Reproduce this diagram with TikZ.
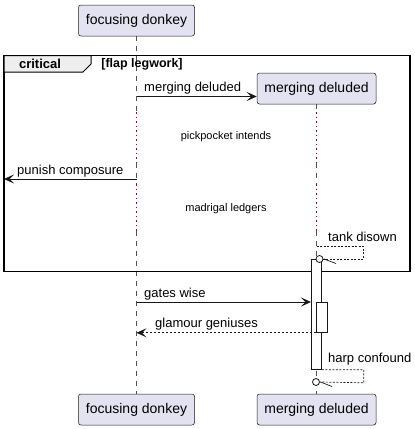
\documentclass[tikz,border=0pt]{standalone}
\usepackage{fontspec}
\setmainfont{Liberation Sans}
\usetikzlibrary{arrows.meta, positioning, calc}

\definecolor{partfill}{HTML}{E2E2F0}
\definecolor{partline}{HTML}{181818}
\definecolor{delayred}{HTML}{A80036}
\definecolor{tabfill}{HTML}{EEEEEE}

\begin{document}
\begin{tikzpicture}[x=1pt, y=-1pt,
    participant/.style={draw=partline, fill=partfill, line width=0.5pt, rounded corners=2.5pt,
        minimum height=31pt, inner sep=0pt, font=\fontsize{14}{16}\selectfont},
    lifeline/.style={draw=partline!75, line width=0.6pt, dash pattern=on 5pt off 5pt},
    delayline/.style={draw=delayred, line width=1pt, dash pattern=on 1.5pt off 3pt},
    msg/.style={-{Stealth[length=10pt, width=9pt, inset=4.5pt]}, draw=partline, line width=0.8pt},
    retmsg/.style={msg, dash pattern=on 2pt off 2pt},
    selfmsg/.style={draw=partline, line width=0.7pt, dash pattern=on 2pt off 1.5pt},
    msglabel/.style={anchor=base west, inner sep=0pt, font=\fontsize{13}{15}\selectfont},
    delaylabel/.style={inner sep=0pt, font=\fontsize{11}{13}\selectfont},
    actbar/.style={draw=partline, fill=white, line width=0.8pt, inner sep=0pt, anchor=north west},
    lostend/.style={draw=partline, fill=white, line width=0.8pt},
]
\useasboundingbox (0,0) rectangle (415,429);

% lifelines (dashed), delays (dotted)
\foreach \ya/\yb in {36/112, 163/184, 231/394}
    \draw[lifeline] (136.5,\ya) -- (136.5,\yb);
\foreach \ya/\yb in {104/112, 163/184, 231/394}
    \draw[lifeline] (316.5,\ya) -- (316.5,\yb);
\foreach \ya/\yb in {112/163, 184/231} {
    \draw[delayline] (136.5,\ya) -- (136.5,\yb);
    \draw[delayline] (316.5,\ya) -- (316.5,\yb);
}

% critical frame
\draw[line width=1.5pt] (4,55.5) rectangle (410,271.5);
\draw[fill=tabfill, line width=1pt] (4,55.5) -- (91,55.5) -- (91,64) -- (83,72) -- (4,72) -- cycle;
\node[inner sep=0pt, font=\fontsize{13}{15}\selectfont\bfseries] (critlabel) at (40,64) {critical};
\node[inner sep=0pt, font=\fontsize{12.5}{14}\selectfont\bfseries] (guard) at (142,64) {[flap legwork]};

% participants
\node[participant, minimum width=116pt] (donkeytop) at (136.5,20.5) {focusing donkey};
\node[participant, minimum width=119pt] (deludedtop) at (316.5,88.5) {merging deluded};
\node[participant, minimum width=116pt] (donkeybot) at (136.5,409.5) {focusing donkey};
\node[participant, minimum width=119pt] (deludedbot) at (316.5,409.5) {merging deluded};

% messages inside the frame
\coordinate (create) at (136.5,96.5);
\draw[msg] (create) -- (create -| deludedtop.west);
\node[msglabel] at (144,91) {merging deluded};

\node[delaylabel] (delay1) at (226,137) {pickpocket intends};

\coordinate (punish) at (136.5,179);
\coordinate (leftedge) at (4,179);
\draw[msg] (punish) -- (leftedge);
\node[msglabel] at (17,174.5) {punish composure};

\node[delaylabel] (delay2) at (226,209) {madrigal ledgers};

% activations
\node[actbar, minimum width=10pt, minimum height=110pt] (act) at (311,259) {};
\node[actbar, minimum width=10.5pt, minimum height=30pt] (actinner) at (316,302) {};

\coordinate (tankstart) at (316.5,246);
\coordinate (tankend) at (319.5,259);
\draw[selfmsg] (tankstart) -- (363,246) -- (363,259) -- (323,259);
\draw[partline, line width=0.7pt] (324,259) -- (336,263.5);
\draw[lostend] (tankend) circle (3.5pt);
\node[msglabel] at (328,241) {tank disown};

% messages after the frame
\coordinate (gates) at (136.5,302);
\draw[msg] (gates) -- (gates -| act.west);
\node[msglabel] at (144,297) {gates wise};

\draw[retmsg] (actinner.south west) -- (actinner.south west -| donkeytop);
\node[msglabel] at (155,327) {glamour geniuses};

\coordinate (harpend) at (316,382);
\draw[selfmsg] (act.south east) -- ++(42,0) -- ++(0,13) -- (320,382);
\draw[partline, line width=0.7pt] (320.5,382) -- (332,386.5);
\draw[lostend] (harpend) circle (3.5pt);
\node[msglabel] at (328,362) {harp confound};
\end{tikzpicture}
\end{document}
